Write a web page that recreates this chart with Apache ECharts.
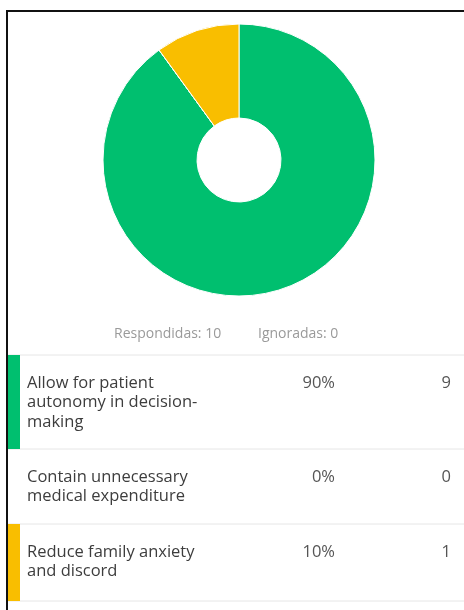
<!DOCTYPE html>
<html>
<head>
<meta charset="utf-8">
<script src="https://cdn.jsdelivr.net/npm/echarts@6/dist/echarts.min.js"></script>
<style>
  html, body { margin: 0; padding: 0; background: #ffffff; }
  #chart { width: 464px; height: 610px; }
</style>
</head>
<body>
<div id="chart"></div>
<script>
// Answer choices, response counts and slice colours
const answers = [
  ['Allow for patient', 'autonomy in decision-', 'making'],
  ['Contain unnecessary', 'medical expenditure'],
  ['Reduce family anxiety', 'and discord']
];
const counts = [9, 0, 1];
const colors = ['#00bf6f', '#d9d9d9', '#f9be00'];
const answered = 10;
const skipped = 0;

const total = counts.reduce((a, b) => a + b, 0);
const percents = counts.map(c => Math.round(c / total * 100) + '%');

const chart = echarts.init(document.getElementById('chart'), null, { renderer: 'canvas' });

const FONT = '"Open Sans", "Noto Sans", sans-serif';
const graphics = [];

// outer frame (left and top edges visible)
graphics.push({
  type: 'rect', z: 10,
  shape: { x: 7, y: 11, width: 480, height: 620 },
  style: { fill: null, stroke: '#111111', lineWidth: 2 }
});

// summary line under the donut
graphics.push({
  type: 'text', x: 114, y: 334,
  style: { text: 'Respondidas: ' + answered, fill: '#9a9a9a', font: '14px ' + FONT, textVerticalAlign: 'middle' }
});
graphics.push({
  type: 'text', x: 258, y: 334,
  style: { text: 'Ignoradas: ' + skipped, fill: '#9a9a9a', font: '14px ' + FONT, textVerticalAlign: 'middle' }
});

// table rows
const rowTops = [355, 449, 524];
const rowBottoms = [449, 524, 601];
const lineH = 19.5;
graphics.push({
  type: 'line', shape: { x1: 7, y1: rowTops[0], x2: 464, y2: rowTops[0] },
  style: { stroke: '#e6e6e6', lineWidth: 1 }
});
answers.forEach((lines, i) => {
  const top = rowTops[i];
  const bottom = rowBottoms[i];
  graphics.push({
    type: 'line', shape: { x1: 7, y1: bottom, x2: 464, y2: bottom },
    style: { stroke: '#e6e6e6', lineWidth: 1 }
  });
  if (counts[i] > 0) {
    graphics.push({
      type: 'rect', shape: { x: 7, y: top, width: 13, height: bottom - top },
      style: { fill: colors[i] }
    });
  }
  lines.forEach((t, k) => {
    graphics.push({
      type: 'text', x: 27, y: top + 28 + k * lineH,
      style: { text: t, fill: '#3d3d3d', font: '16.5px ' + FONT, textVerticalAlign: 'middle' }
    });
  });
  graphics.push({
    type: 'text', x: 335, y: top + 28,
    style: { text: percents[i], fill: '#555555', font: '16.5px ' + FONT, textAlign: 'right', textVerticalAlign: 'middle' }
  });
  graphics.push({
    type: 'text', x: 451, y: top + 28,
    style: { text: String(counts[i]), fill: '#555555', font: '16.5px ' + FONT, textAlign: 'right', textVerticalAlign: 'middle' }
  });
});

chart.setOption({
  backgroundColor: '#ffffff',
  animation: false,
  series: [{
    type: 'pie',
    center: [239, 160],
    radius: [42, 136],
    startAngle: 90,
    clockwise: true,
    label: { show: false },
    labelLine: { show: false },
    emphasis: { disabled: true },
    itemStyle: { borderColor: '#ffffff', borderWidth: 1 },
    data: counts.map((v, i) => ({
      value: v,
      name: answers[i].join(' '),
      itemStyle: { color: colors[i] }
    }))
  }],
  graphic: graphics
});
</script>
</body>
</html>
